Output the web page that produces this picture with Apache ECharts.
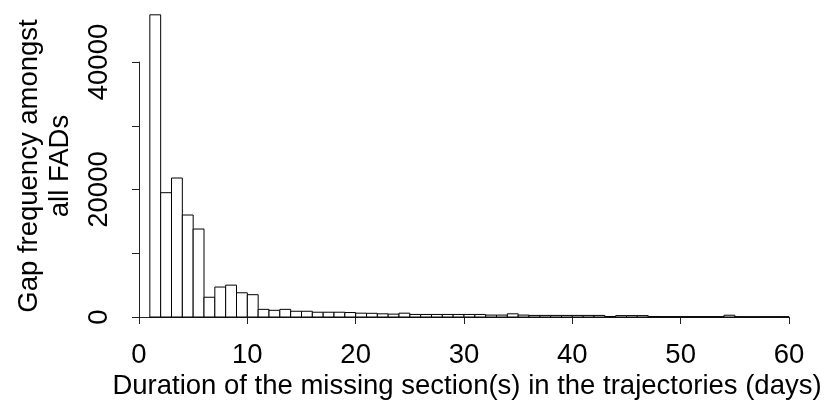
<!DOCTYPE html>
<html><head><meta charset="utf-8">
<script src="https://cdn.jsdelivr.net/npm/echarts@6/dist/echarts.min.js"></script>
<style>html,body{margin:0;padding:0;background:#fff}#c{width:826px;height:403px}</style>
</head><body><div id="c"></div>
<script>
// Histogram bins (days): each bin is [start, start+1)
const binStarts = [];
for (let d = 1; d <= 59; d++) binStarts.push(d);
const binWidth = 1;
// Gap frequency per bin
const counts = [
  47400, 19500, 21800, 16000, 13800, 3100, 4700, 5000, 3800, 3500,
  1200, 1050, 1200, 900, 900, 750, 750, 750, 700, 600,
  580, 500, 450, 600, 400, 400, 400, 400, 400, 400,
  400, 300, 300, 500, 300, 250, 250, 250, 250, 250,
  250, 250, 80, 220, 220, 220, 70, 60, 60, 60,
  60, 60, 60, 280, 50, 50, 50, 50, 50
];
const xTicks = [0, 10, 20, 30, 40, 50, 60];
const yTicks = [0, 10000, 20000, 30000, 40000];
const yTickLabels = ['0', '', '20000', '', '40000'];
const xTitle = 'Duration of the missing section(s) in the trajectories (days)';
const yTitle = 'Gap frequency amongst\nall FADs';

const FONT = '"Liberation Sans", Arial, sans-serif';
const FS = 27.5;
const data = binStarts.map((s, i) => [s, s + binWidth, counts[i]]);

const chart = echarts.init(document.getElementById('c'), null, {renderer: 'canvas'});
chart.setOption({
  animation: false,
  backgroundColor: '#fff',
  grid: {left: 139, right: 37, top: 62, bottom: 86, containLabel: false, outerBoundsMode: 'none'},
  xAxis: {
    type: 'value', min: xTicks[0], max: xTicks[xTicks.length - 1], interval: 10,
    offset: 14,
    axisLine: {show: true, lineStyle: {color: '#222', width: 1}},
    axisTick: {show: true, length: 7, lineStyle: {color: '#222'}},
    axisLabel: {fontFamily: FONT, fontSize: FS, color: '#000', margin: 10},
    splitLine: {show: false}
  },
  yAxis: {
    type: 'value', min: yTicks[0], max: yTicks[yTicks.length - 1], interval: 10000,
    offset: 16,
    axisLine: {show: true, lineStyle: {color: '#222', width: 1}},
    axisTick: {show: true, length: 7, lineStyle: {color: '#222'}},
    axisLabel: {
      fontFamily: FONT, fontSize: FS, color: '#000', rotate: 90, margin: 10,
      formatter: v => { const i = yTicks.indexOf(v); return i >= 0 ? yTickLabels[i] : ''; }
    },
    splitLine: {show: false}
  },
  graphic: [{
    type: 'text', x: 45, y: 166, rotation: Math.PI / 2,
    style: {text: yTitle, font: FS + 'px ' + FONT, fill: '#000', align: 'center', verticalAlign: 'middle', lineHeight: 31}
  }, {
    type: 'text', x: 467, y: 386,
    style: {text: xTitle, font: FS + 'px ' + FONT, fill: '#000', align: 'center', verticalAlign: 'middle'}
  }],
  series: [{
    type: 'custom', clip: false,
    encode: {x: [0, 1], y: 2},
    data: data,
    renderItem: function (params, api) {
      const p0 = api.coord([api.value(0), api.value(2)]);
      const p1 = api.coord([api.value(1), 0]);
      return {
        type: 'rect',
        shape: {x: p0[0], y: p0[1], width: p1[0] - p0[0], height: p1[1] - p0[1]},
        style: {fill: '#fff', stroke: '#000', lineWidth: 1}
      };
    }
  }]
});
</script></body></html>
